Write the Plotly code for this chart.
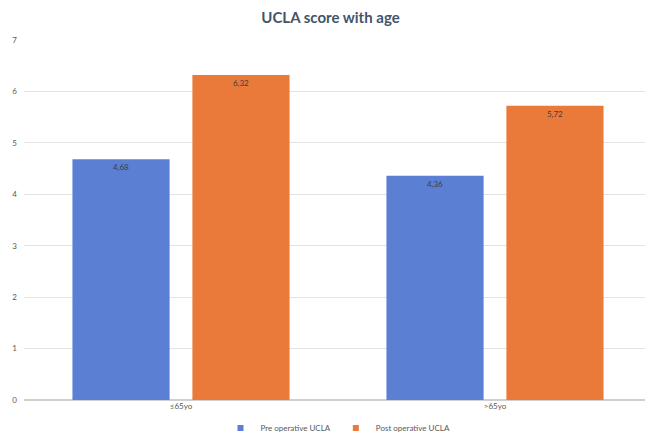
import plotly.graph_objects as go

categories = ["≤65yo", ">65yo"]
pre_ucla = [4.68, 4.36]
post_ucla = [6.32, 5.72]
series_names = ["Pre operative UCLA", "Post operative UCLA"]
y_ticks = [0, 1, 2, 3, 4, 5, 6, 7]

colors = ["#5a7fd3", "#e97a3a"]

fig = go.Figure()
for name, vals, color in [
    (series_names[0], pre_ucla, colors[0]),
    (series_names[1], post_ucla, colors[1]),
]:
    fig.add_trace(go.Bar(
        name=name, x=categories, y=vals, showlegend=False,
        marker=dict(color=color, line=dict(width=0)),
        text=[f"{v:.2f}".replace(".", ",") for v in vals],
        textposition="inside", insidetextanchor="end",
        textfont=dict(size=8, color="#404040", family="Lato"),
        textangle=0,
    ))
# legend entries with small square swatches
for name, color in zip(series_names, colors):
    fig.add_trace(go.Scatter(
        name=name, x=[None], y=[None], mode="markers",
        marker=dict(symbol="square", size=6, color=color),
        showlegend=True,
    ))

fig.update_layout(
    width=645, height=425,
    margin=dict(l=16, r=1, t=32, b=33, autoexpand=False),
    paper_bgcolor="white", plot_bgcolor="white",
    barmode="group", bargap=0.236, bargroupgap=0.19,
    title=dict(text="<b>UCLA score with age</b>", x=0.5, xanchor="center",
               y=0.976, yanchor="middle",
               font=dict(family="Lato", size=15, color="#44546a")),
    font=dict(family="Lato", color="#595959"),
    legend=dict(orientation="h", x=0.5, xanchor="center", y=-0.078, yanchor="middle",
                font=dict(size=8, color="#595959"), itemwidth=30,
                traceorder="normal", tracegroupgap=0),
    uniformtext=dict(minsize=8, mode="show"),
)
fig.update_yaxes(range=[0, 7], tickvals=y_ticks, showgrid=True, gridcolor="#e3e3e3",
                 gridwidth=1, zeroline=True, zerolinecolor="#d0d0d0",
                 tickfont=dict(size=8, color="#595959"), ticks="", ticklen=0,
                 automargin=False, ticklabelstandoff=6)
fig.update_xaxes(tickfont=dict(size=8, color="#595959"), showline=False, ticks="",
                 automargin=False)
fig.write_html("out.html")
